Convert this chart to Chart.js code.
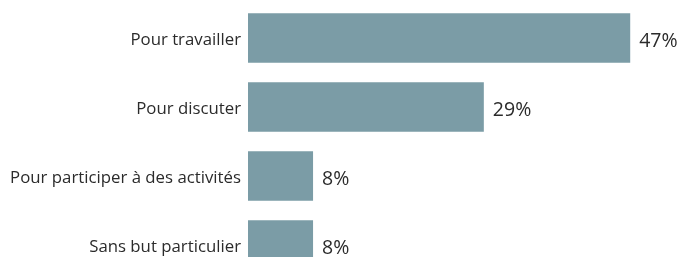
<!DOCTYPE html>
<html>
<head>
<meta charset="utf-8">
<script src="https://cdn.jsdelivr.net/npm/chart.js@4"></script>
<style>
  html, body { margin: 0; padding: 0; background: #fff; overflow: hidden; }
  canvas { display: block; }
</style>
</head>
<body>
<canvas id="raisonsChart" width="680" height="283"></canvas>
<script>
// Données
const categories = ['Pour travailler', 'Pour discuter', 'Pour participer à des activités', 'Sans but particulier'];
const valeurs = [47, 29, 8, 8];
const etiquettes = ['47%', '29%', '8%', '8%'];

// Étiquettes de valeur au bout des barres
const valeurLabels = {
  id: 'valeurLabels',
  afterDatasetsDraw(chart) {
    const ctx = chart.ctx;
    const meta = chart.getDatasetMeta(0);
    ctx.save();
    ctx.font = '19.5px "Open Sans"';
    ctx.fillStyle = '#2b2b2b';
    ctx.textAlign = 'left';
    ctx.textBaseline = 'middle';
    meta.data.forEach((bar, i) => {
      ctx.fillText(etiquettes[i], bar.x + 9, bar.y + 3);
    });
    ctx.restore();
  }
};

const ctx = document.getElementById('raisonsChart').getContext('2d');
const raisonsChart = new Chart(ctx, {
  type: 'bar',
  data: {
    labels: categories,
    datasets: [{
      data: valeurs,
      backgroundColor: '#7b9ca6',
      borderWidth: 0,
      barPercentage: 0.72,
      categoryPercentage: 1,
    }],
  },
  options: {
    indexAxis: 'y',
    responsive: false,
    animation: false,
    layout: { padding: { top: 3.5, bottom: 3.5, left: 0, right: 1 } },
    plugins: {
      legend: { display: false },
      tooltip: { enabled: false },
    },
    scales: {
      x: { display: false, min: 0, max: 53 },
      y: {
        grid: { display: false, drawTicks: false },
        border: { display: false },
        ticks: {
          padding: 7,
          labelOffset: 2,
          color: '#2b2b2b',
          font: { family: 'Open Sans', size: 16.8 },
        },
        afterFit(scale) {
          scale.width = 248;
          scale.paddingTop = 0;
          scale.paddingBottom = 0;
        },
      },
    },
  },
  plugins: [valeurLabels],
});
</script>
</body>
</html>
